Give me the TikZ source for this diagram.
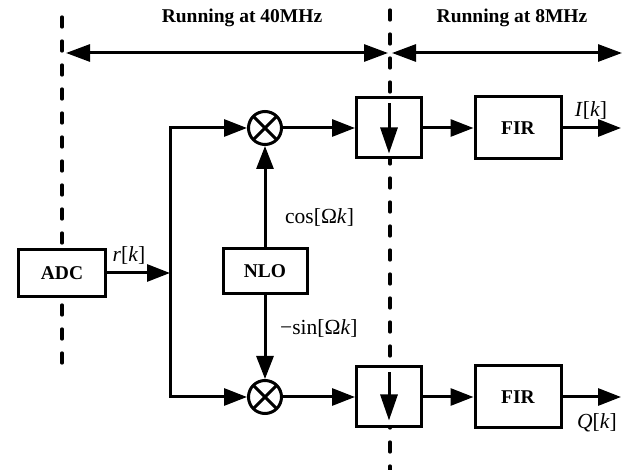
\documentclass[tikz,border=0pt]{standalone}
\usepackage{fontspec}
\setmainfont{Liberation Serif}
\usetikzlibrary{arrows.meta,calc}
\definecolor{ddcink}{HTML}{000000}
\definecolor{ddcpage}{HTML}{FFFFFF}
\tikzset{
  ddcblock/.style={
    draw=ddcink,
    fill=ddcpage,
    line width=3pt,
    align=center,
    inner sep=0pt,
    font=\fontsize{19.5}{22}\selectfont\bfseries,
    text=ddcink
  },
  ddcmixer/.style={
    circle,
    draw=ddcink,
    fill=ddcpage,
    line width=3pt,
    minimum size=33pt,
    inner sep=0pt,
    path picture={
      \draw[line width=3pt, ddcink]
        (path picture bounding box.north west) -- (path picture bounding box.south east)
        (path picture bounding box.north east) -- (path picture bounding box.south west);
    }
  },
  ddcedge/.style={
    -{Triangle[length=23pt,width=17pt]},
    line width=3pt,
    color=ddcink
  },
  ddcspan/.style={
    {Triangle[length=24pt,width=17pt]}-{Triangle[length=24pt,width=17pt]},
    line width=3pt,
    color=ddcink
  },
  ddcdown/.style={
    -{Triangle[length=26pt,width=17pt]},
    line width=3pt,
    color=ddcink
  },
  ddcdomain/.style={
    line width=3.3pt,
    color=ddcink,
    dash pattern=on 10pt off 14pt,
    line cap=round
  },
  ddcsig/.style={
    font=\fontsize{21.5}{24}\selectfont,
    text=ddcink,
    inner sep=0pt
  },
  ddctitle/.style={
    font=\fontsize{19.5}{22}\selectfont\bfseries,
    text=ddcink,
    inner sep=0pt
  }
}

\begin{document}
\begin{tikzpicture}[x=1pt,y=-1pt]
  \useasboundingbox[fill=ddcpage] (0,0) rectangle (625,470);

  % clock domain borders
  \draw[ddcdomain] (62,17) -- (62,367);
  \draw[ddcdomain] (390,10) -- (390,470);

  \node[ddctitle] (rate40) at (242,18) {Running at 40MHz};
  \node[ddctitle] (rate8) at (512,18) {Running at 8MHz};

  \coordinate (spanA) at (66,53);
  \coordinate (spanB) at (388,53);
  \coordinate (spanC) at (392,53);
  \coordinate (spanD) at (622,53);
  \draw[ddcspan] (spanA) -- (spanB);
  \draw[ddcspan] (spanC) -- (spanD);

  % blocks
  \node[ddcblock, minimum width=87pt, minimum height=47pt] (adc) at (62,273) {ADC};
  \node[ddcblock, minimum width=84pt, minimum height=45pt] (nlo) at (265,271) {NLO};
  \node[ddcmixer] (mixI) at (265,128) {};
  \node[ddcmixer] (mixQ) at (265,397) {};
  \node[ddcblock, minimum width=65pt, minimum height=60pt] (decI) at (389,128) {};
  \node[ddcblock, minimum width=65pt, minimum height=60pt] (decQ) at (389,397) {};
  \node[ddcblock, minimum width=86pt, minimum height=62pt] (firI) at (518,128) {FIR};
  \node[ddcblock, minimum width=86pt, minimum height=62pt] (firQ) at (518,397) {FIR};

  \coordinate (split) at (170,273);
  \coordinate (outI) at (621,128);
  \coordinate (outQ) at (621,397);

  % signal path
  \draw[ddcedge] (adc) -- (split);
  \node[ddcsig] (rk) at (129,255) {\textit{r}[\textit{k}]};
  \draw[ddcedge] (split) |- (mixI);
  \draw[ddcedge] (split) |- (mixQ);

  \draw[ddcedge] (nlo) -- (mixI);
  \draw[ddcedge] (nlo) -- (mixQ);
  \node[ddcsig, anchor=west] (cosk) at (285,217) {cos[Ω\textit{k}]};
  \node[ddcsig, anchor=west] (sink) at (280,328) {−sin[Ω\textit{k}]};

  \draw[ddcedge] (mixI) -- (decI);
  \draw[ddcedge] (mixQ) -- (decQ);
  \draw[ddcdown] ([yshift=-7pt]decI.north) -- ([yshift=6pt]decI.south);
  \draw[ddcdown] ([yshift=-7pt]decQ.north) -- ([yshift=8pt]decQ.south);

  \draw[ddcedge] (decI) -- (firI);
  \draw[ddcedge] (decQ) -- (firQ);
  \draw[ddcedge] (firI) -- (outI);
  \draw[ddcedge] (firQ) -- (outQ);
  \node[ddcsig] (ik) at (591,110) {\textit{I}[\textit{k}]};
  \node[ddcsig] (qk) at (597,423) {\textit{Q}[\textit{k}]};
\end{tikzpicture}
\end{document}
